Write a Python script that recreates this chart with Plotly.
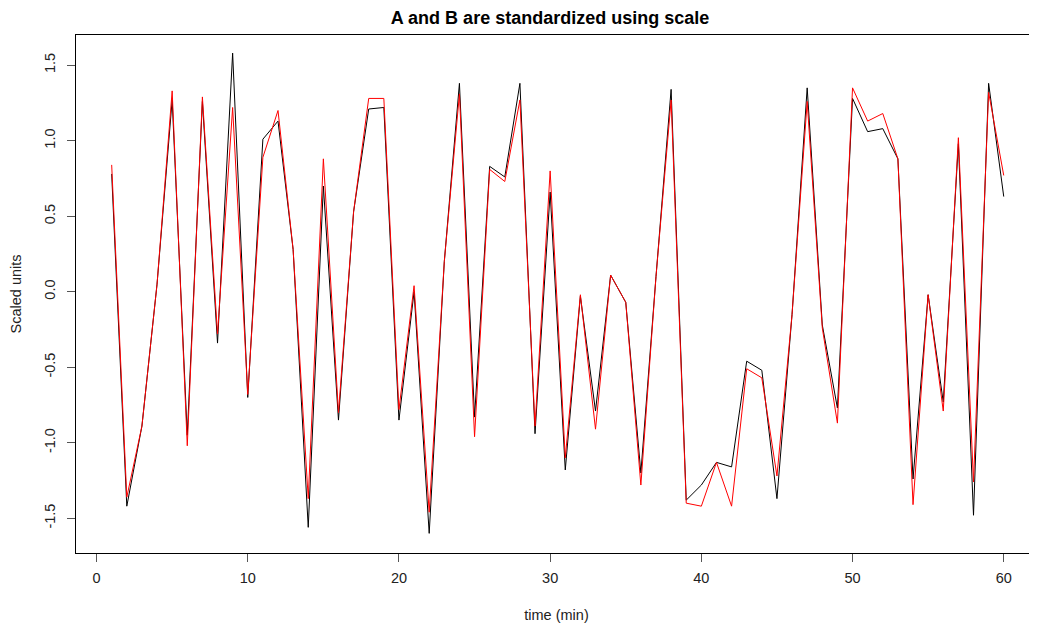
import plotly.graph_objects as go

t = list(range(1, 61))
A = [0.78, -1.42, -0.89, 0.05, 1.27, -0.95, 1.26, -0.34, 1.58, -0.70,
     1.01, 1.13, 0.28, -1.56, 0.70, -0.85, 0.53, 1.21, 1.22, -0.85,
     0.00, -1.60, 0.20, 1.38, -0.83, 0.83, 0.76, 1.38, -0.94, 0.66,
     -1.18, -0.03, -0.79, 0.11, -0.07, -1.20, 0.10, 1.34, -1.38, -1.28,
     -1.13, -1.16, -0.46, -0.52, -1.37, -0.15, 1.35, -0.22, -0.77, 1.28,
     1.06, 1.08, 0.88, -1.24, -0.02, -0.73, 0.98, -1.48, 1.38, 0.63]
B = [0.84, -1.36, -0.89, 0.05, 1.33, -1.02, 1.29, -0.28, 1.22, -0.68,
     0.89, 1.20, 0.28, -1.37, 0.88, -0.80, 0.53, 1.28, 1.28, -0.78,
     0.04, -1.46, 0.20, 1.31, -0.96, 0.81, 0.73, 1.27, -0.89, 0.80,
     -1.10, -0.02, -0.91, 0.11, -0.07, -1.28, 0.10, 1.27, -1.40, -1.42,
     -1.13, -1.42, -0.51, -0.57, -1.22, -0.15, 1.26, -0.24, -0.87, 1.35,
     1.13, 1.18, 0.88, -1.41, -0.02, -0.79, 1.02, -1.26, 1.32, 0.77]

x_ticks = [0, 10, 20, 30, 40, 50, 60]
y_ticks = [-1.5, -1.0, -0.5, 0.0, 0.5, 1.0, 1.5]
y_ticklabels = ["-1.5", "-1.0", "-0.5", "0.0", "0.5", "1.0", "1.5"]

fig = go.Figure()
fig.add_trace(go.Scatter(x=t, y=A, mode="lines", line=dict(color="black", width=1),
                         name="A", showlegend=False))
fig.add_trace(go.Scatter(x=t, y=B, mode="lines", line=dict(color="red", width=1),
                         name="B", showlegend=False))

font_family = "Liberation Sans, Arial, sans-serif"
W, H = 1029, 618  # page body has an 8px margin
fig.update_layout(
    width=W, height=H,
    margin=dict(l=68, r=0, t=27, b=73),
    paper_bgcolor="white", plot_bgcolor="white",
    font=dict(family=font_family, color="#222", size=14),
    title=dict(text="<b>A and B are standardized using scale</b>",
               x=542 / W, xref="container", xanchor="center",
               y=1 - 10 / H, yref="container", yanchor="middle",
               font=dict(size=18, color="black", family=font_family)),
    xaxis=dict(range=[-1.36, 62.2], tickvals=x_ticks,
               ticktext=[str(v) for v in x_ticks],
               showgrid=False, zeroline=False,
               showline=True, linecolor="black", linewidth=1, mirror=True,
               ticks="outside", ticklen=8, tickcolor="#555", tickwidth=1,
               ticklabelstandoff=4,
               tickfont=dict(size=14.5, color="#222"),
               title=dict(text="time (min)", standoff=24,
                          font=dict(size=14.5, color="#222"))),
    yaxis=dict(range=[-1.73, 1.70], tickvals=y_ticks, ticktext=y_ticklabels,
               showgrid=False, zeroline=False,
               showline=True, linecolor="black", linewidth=1, mirror=False,
               ticks="outside", ticklen=8, tickcolor="#555", tickwidth=1,
               tickangle=-90, ticklabelstandoff=6,
               tickfont=dict(size=14.5, color="#222"),
               title=dict(text="Scaled units", standoff=18,
                          font=dict(size=14.5, color="#222"))),
)

fig.write_html("out.html")
